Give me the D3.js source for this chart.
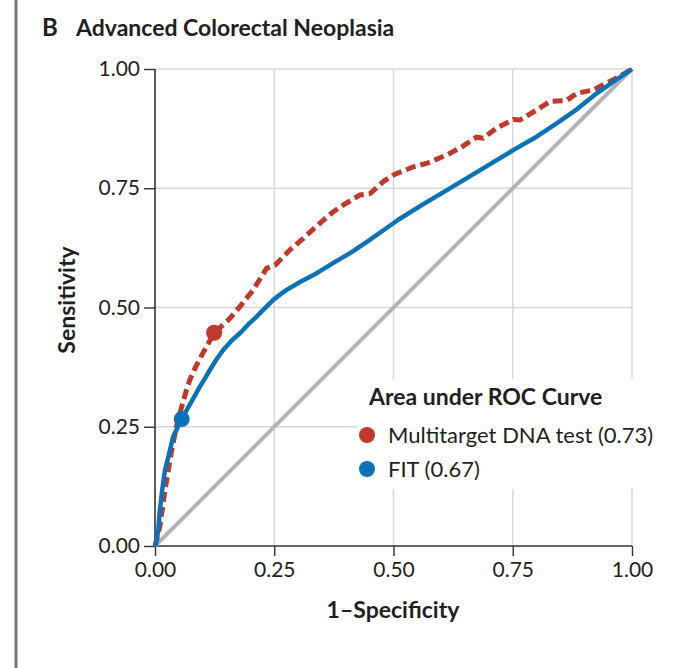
<!DOCTYPE html>
<html>
<head>
<meta charset="utf-8">
<script src="https://cdn.jsdelivr.net/npm/d3@7"></script>
<style>
  body { margin:0; background:#fff; }
  text { font-family: Lato, "Open Sans", sans-serif; fill:#231f20; }
</style>
</head>
<body>
<div class="svgWrap"></div>
<script>
// ROC points, [1-specificity, sensitivity]
var dnaX = [0,0.010,0.021,0.028,0.035,0.045,0.056,0.066,0.073,0.084,0.098,0.112,0.124,0.154,0.178,0.206,0.234,0.252,0.283,0.311,0.346,0.374,0.395,0.430,0.451,0.480,0.500,0.542,0.569,0.612,0.639,0.674,0.688,0.716,0.751,0.765,0.800,0.828,0.863,0.884,0.919,0.947,0.970,1];
var dnaY = [0,0.040,0.117,0.159,0.201,0.250,0.292,0.327,0.348,0.373,0.400,0.425,0.447,0.474,0.502,0.537,0.582,0.589,0.621,0.645,0.677,0.701,0.715,0.736,0.739,0.765,0.778,0.795,0.802,0.820,0.834,0.857,0.855,0.876,0.894,0.893,0.914,0.932,0.934,0.949,0.956,0.971,0.982,1];
var fitX = [0,0.003,0.007,0.010,0.012,0.016,0.021,0.028,0.038,0.056,0.066,0.075,0.085,0.094,0.104,0.115,0.128,0.143,0.160,0.178,0.195,0.213,0.230,0.248,0.262,0.276,0.305,0.339,0.375,0.409,0.445,0.479,0.510,0.560,0.612,0.680,0.751,0.800,0.842,0.885,0.926,0.965,1];
var fitY = [0,0.010,0.034,0.075,0.090,0.124,0.159,0.187,0.229,0.266,0.284,0.300,0.318,0.334,0.350,0.369,0.390,0.411,0.430,0.446,0.464,0.481,0.498,0.516,0.527,0.537,0.554,0.572,0.594,0.614,0.638,0.662,0.684,0.715,0.746,0.787,0.830,0.858,0.886,0.916,0.949,0.976,1];
var chance = [0,1];
var ticks = [0,0.25,0.5,0.75,1];
var dnaPoint = [0.124,0.447];
var fitPoint = [0.056,0.266];
var seriesNames = ["Multitarget DNA test (0.73)","FIT (0.67)"];

var red = "#c0392b", blue = "#0b72b9", gray = "#b2b2b8";

var margin = {top:69, right:68, bottom:122, left:155};
var W = 700, H = 668;
var width = W - margin.left - margin.right;
var height = H - margin.top - margin.bottom;

var svg = d3.select(".svgWrap").append("svg")
  .attr("width", W).attr("height", H);

// left rule of the panel
svg.append("line")
  .attr("x1",16).attr("x2",16).attr("y1",0).attr("y2",H)
  .attr("stroke","#7a7a7a").attr("stroke-width",3);

// Title
svg.append("text").attr("x",42).attr("y",36)
  .style("font-size","24px").style("font-weight","bold").text("B");
svg.append("text").attr("x",76).attr("y",36)
  .style("font-size","23px").style("font-weight","bold").text("Advanced Colorectal Neoplasia");

var g = svg.append("g").attr("transform","translate(" + margin.left + "," + margin.top + ")");

var x = d3.scaleLinear().domain([0,1]).range([0,width]);
var y = d3.scaleLinear().domain([0,1]).range([height,0]);

//grid
g.selectAll(".vgrid").data(ticks.slice(1)).enter().append("line")
  .attr("x1",x).attr("x2",x).attr("y1",0).attr("y2",height)
  .attr("stroke","#d8d8d8").attr("stroke-width",1.5);
g.selectAll(".hgrid").data(ticks.slice(1)).enter().append("line")
  .attr("y1",y).attr("y2",y).attr("x1",0).attr("x2",width)
  .attr("stroke","#d8d8d8").attr("stroke-width",1.5);

//axes
var fmt = d3.format(".2f");
var xAxis = g.append("g").attr("transform","translate(0," + height + ")")
  .call(d3.axisBottom(x).tickValues(ticks).tickFormat(fmt).tickSize(10).tickPadding(6));
var yAxis = g.append("g")
  .call(d3.axisLeft(y).tickValues(ticks).tickFormat(fmt).tickSize(11).tickPadding(4));
[xAxis, yAxis].forEach(function(a){
  a.select(".domain").attr("stroke","#333").attr("stroke-width",1.6);
  a.selectAll(".tick line").attr("stroke","#333").attr("stroke-width",1.4);
  a.selectAll(".tick text").style("font-size","21px").style("font-family","Lato, sans-serif").attr("fill","#231f20");
});
yAxis.select(".domain").attr("d","M0," + height + "V0");
xAxis.select(".domain").attr("d","M0,0H" + width);

//curves
var line = d3.line().x(function(d){return x(d[0]);}).y(function(d){return y(d[1]);});

g.append("path").datum(chance.map(function(v){return [v,v];}))
  .attr("d",line).attr("fill","none").attr("stroke",gray).attr("stroke-width",4);

g.append("path").datum(dnaX.map(function(v,i){return [v,dnaY[i]];}))
  .attr("d",line).attr("fill","none").attr("stroke",red).attr("stroke-width",5)
  .attr("stroke-dasharray","10,5");

g.append("path").datum(fitX.map(function(v,i){return [v,fitY[i]];}))
  .attr("d",line).attr("fill","none").attr("stroke",blue).attr("stroke-width",4.5)
  .attr("stroke-linejoin","round");

g.append("circle").attr("cx",x(dnaPoint[0])).attr("cy",y(dnaPoint[1])).attr("r",8).attr("fill",red);
g.append("circle").attr("cx",x(fitPoint[0])).attr("cy",y(fitPoint[1])).attr("r",8).attr("fill",blue);

//Legend
var leg = svg.append("g").attr("transform","translate(367,405)");
leg.append("rect").attr("x",-10).attr("y",-26).attr("width",300).attr("height",110).attr("fill","#fff");
leg.append("text").attr("x",2).attr("y",0).style("font-size","23px").style("font-weight","bold")
  .text("Area under ROC Curve");
leg.selectAll(".item").data(seriesNames).enter().append("g")
  .attr("transform",function(d,i){return "translate(0," + (30 + i*34) + ")";})
  .each(function(d,i){
    var s = d3.select(this);
    s.append("circle").attr("r",8).attr("fill", i == 0 ? red : blue);
    s.append("text").attr("x",21).attr("y",7.5).style("font-size","22px").text(d);
  });

//Axis titles
svg.append("text").attr("x",393).attr("y",618).attr("text-anchor","middle")
  .style("font-size","23px").style("font-weight","bold").text("1\u2013Specificity");
svg.append("text").attr("transform","translate(75,300) rotate(-90)").attr("text-anchor","middle")
  .style("font-size","23px").style("font-weight","bold").text("Sensitivity");
</script>
</body>
</html>
